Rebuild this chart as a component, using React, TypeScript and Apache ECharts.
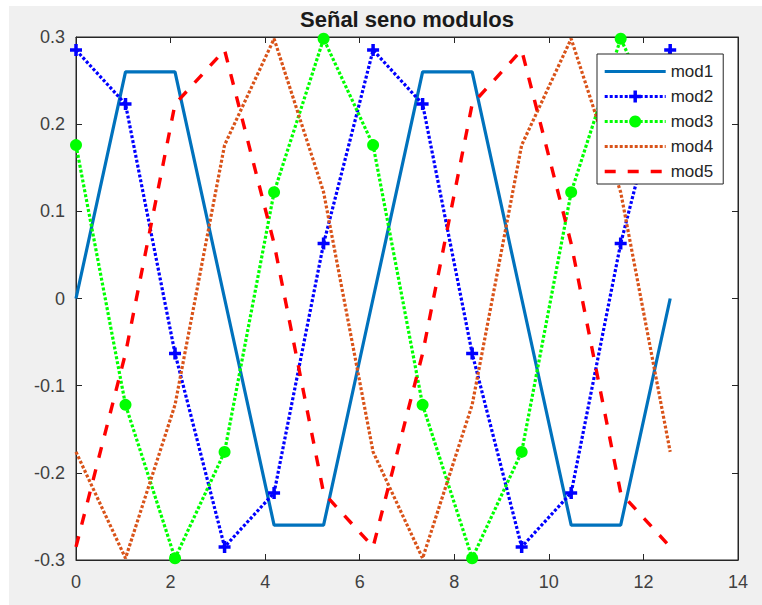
import React, { useEffect, useRef } from "react";
import * as echarts from "echarts";

const xVals = [0, 1.047, 2.094, 3.142, 4.189, 5.236, 6.283, 7.330, 8.378, 9.425, 10.472, 11.519, 12.566];
const mod1 = [0, 0.26, 0.26, 0, -0.26, -0.26, 0, 0.26, 0.26, 0, -0.26, -0.26, 0];
const mod2 = [0.285, 0.223, -0.063, -0.285, -0.223, 0.063, 0.285, 0.223, -0.063, -0.285, -0.223, 0.063, 0.285];
const mod3 = [0.176, -0.122, -0.298, -0.176, 0.122, 0.298, 0.176, -0.122, -0.298, -0.176, 0.122, 0.298, 0.176];
const mod4 = [-0.176, -0.298, -0.122, 0.176, 0.298, 0.122, -0.176, -0.298, -0.122, 0.176, 0.298, 0.122, -0.176];
const mod5 = [-0.285, -0.063, 0.223, 0.285, 0.063, -0.223, -0.285, -0.063, 0.223, 0.285, 0.063, -0.223, -0.285];
const seriesNames = ["mod1", "mod2", "mod3", "mod4", "mod5"];
const titleText = "Señal seno modulos";

const FONT = "'Liberation Sans', Arial, Helvetica, sans-serif";
const AX = "#262626";

const zip = (ys: number[]) => ys.map((y, i) => [xVals[i], y]);

const PLUS = "path://M4.25,0H7.75V4.25H12V7.75H7.75V12H4.25V7.75H0V4.25H4.25Z";
const hiddenIcon = { opacity: 0, color: "transparent", borderWidth: 0 };

export default function App() {
  const ref = useRef<HTMLDivElement>(null);
  useEffect(() => {
    if (!ref.current) return;
    const chart = echarts.init(ref.current, undefined, { renderer: "svg" });
    const axisCommon = {
      type: "value" as const,
      axisLine: { show: true, onZero: false, lineStyle: { color: AX, width: 1 } },
      axisTick: { show: true, inside: true, length: 6, lineStyle: { color: AX, width: 1 } },
      splitLine: { show: false },
    };
    chart.setOption({
      animation: false,
      backgroundColor: "transparent",
      graphic: [
        {
          type: "text",
          x: 407,
          y: 19,
          style: {
            text: titleText,
            textAlign: "center",
            textVerticalAlign: "middle",
            font: `bold 22px ${FONT}`,
            fill: "#1a1a1a",
          },
        },
      ],
      grid: {
        left: 76,
        top: 37,
        right: 24,
        bottom: 45,
        show: true,
        backgroundColor: "#ffffff",
        borderColor: AX,
        borderWidth: 1,
      },
      legend: {
        orient: "vertical",
        left: 597,
        top: 54,
        backgroundColor: "#ffffff",
        borderColor: AX,
        borderWidth: 1,
        borderRadius: 0,
        padding: [9, 10, 4, 6],
        itemWidth: 61,
        itemHeight: 15,
        itemGap: 8,
        lineStyle: { width: "inherit" },
        textStyle: { fontSize: 17, color: AX, fontFamily: FONT },
        data: [
          { name: seriesNames[0], itemStyle: hiddenIcon },
          { name: seriesNames[1] },
          { name: seriesNames[2] },
          { name: seriesNames[3], itemStyle: hiddenIcon },
          { name: seriesNames[4], itemStyle: hiddenIcon },
        ],
      },
      xAxis: [
        {
          ...axisCommon,
          position: "bottom",
          min: 0,
          max: 14,
          interval: 2,
          axisLabel: { show: true, margin: 13, fontSize: 18, color: "#404040", fontFamily: FONT },
        },
        {
          ...axisCommon,
          position: "top",
          min: 0,
          max: 14,
          interval: 2,
          axisLabel: { show: false },
        },
      ],
      yAxis: [
        {
          ...axisCommon,
          position: "left",
          min: -0.3,
          max: 0.3,
          interval: 0.1,
          axisLabel: { show: true, margin: 11, fontSize: 18, color: "#404040", fontFamily: FONT },
        },
        {
          ...axisCommon,
          position: "right",
          min: -0.3,
          max: 0.3,
          interval: 0.1,
          axisLabel: { show: false },
        },
      ],
      series: [
        {
          name: seriesNames[0],
          type: "line",
          data: zip(mod1),
          symbol: "none",
          clip: false,
          lineStyle: { color: "#0072BD", width: 3.2, type: "solid" },
          itemStyle: { color: "#0072BD" },
        },
        {
          name: seriesNames[1],
          type: "line",
          data: zip(mod2),
          symbol: PLUS,
          symbolSize: 12,
          clip: false,
          lineStyle: { color: "#0000FF", width: 3.2, type: [3, 2] },
          itemStyle: { color: "#0000FF" },
        },
        {
          name: seriesNames[2],
          type: "line",
          data: zip(mod3),
          symbol: "circle",
          symbolSize: 12,
          clip: false,
          lineStyle: { color: "#00FF00", width: 3.2, type: [3, 2] },
          itemStyle: { color: "#00FF00" },
        },
        {
          name: seriesNames[3],
          type: "line",
          data: zip(mod4),
          symbol: "none",
          clip: false,
          lineStyle: { color: "#D95319", width: 3.2, type: [3, 2] },
          itemStyle: { color: "#D95319" },
        },
        {
          name: seriesNames[4],
          type: "line",
          data: zip(mod5),
          symbol: "none",
          clip: false,
          lineStyle: { color: "#FF0000", width: 3.4, type: [11, 12] },
          itemStyle: { color: "#FF0000" },
        },
      ],
    });
    return () => chart.dispose();
  }, []);
  return (
    <div style={{ position: "fixed", left: 0, top: 0, width: 762, height: 605, background: "#ffffff" }}>
      <div style={{ position: "absolute", left: 9, top: 6, width: 753, height: 599, background: "#f0f0f0" }} />
      <div ref={ref} style={{ position: "absolute", left: 0, top: 0, width: 762, height: 605 }} />
    </div>
  );
}
